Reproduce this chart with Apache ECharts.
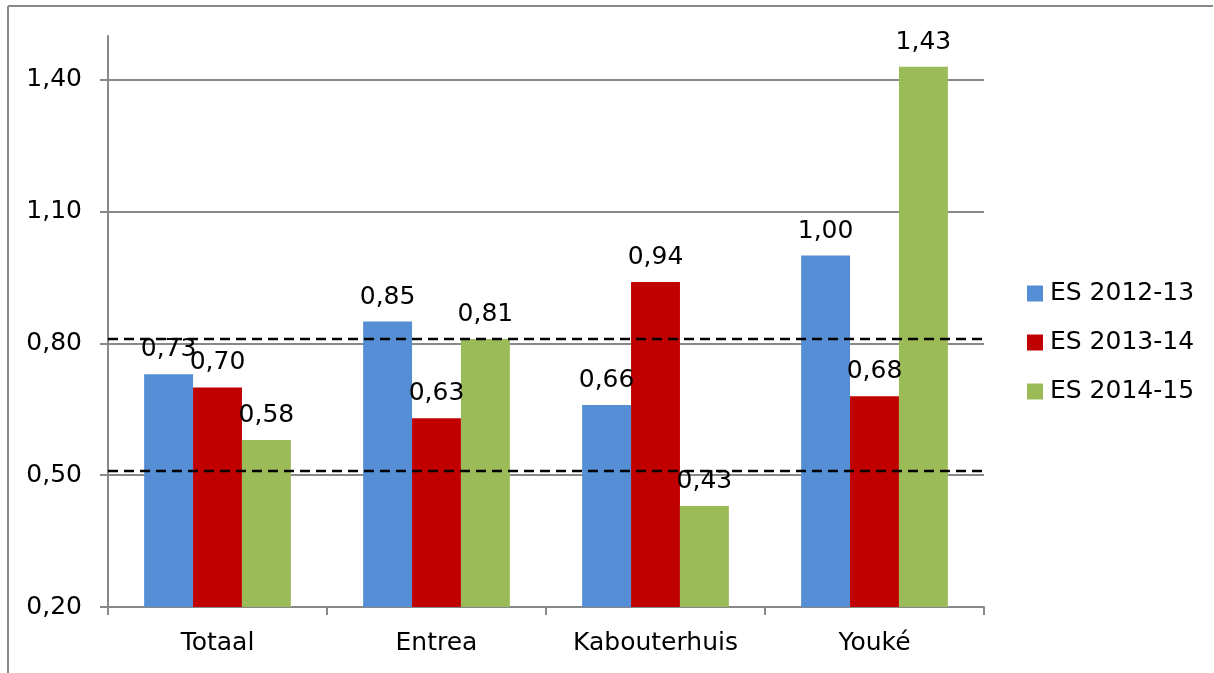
<!DOCTYPE html>
<html>
<head>
<meta charset="utf-8">
<script src="https://cdn.jsdelivr.net/npm/echarts@6/dist/echarts.min.js"></script>
<style>
  html, body { margin: 0; padding: 0; background: #fff; }
  #main { width: 1214px; height: 673px; }
</style>
</head>
<body>
<div id="main"></div>
<script>
var categories = ['Totaal', 'Entrea', 'Kabouterhuis', 'Youké']
var seriesNames = ['ES 2012-13', 'ES 2013-14', 'ES 2014-15']
var es201213 = [0.73, 0.85, 0.66, 1.00]
var es201314 = [0.70, 0.63, 0.94, 0.68]
var es201415 = [0.58, 0.81, 0.43, 1.43]
var yTicks = [0.2, 0.5, 0.8, 1.1, 1.4]
var refLines = [0.805, 0.508]
var colors = ['#558ED5', '#C00000', '#9BBB59']

var font = 'DejaVu Sans'

function fmt(v) {
  return v.toFixed(2).replace('.', ',')
}

var myChart = echarts.init(document.getElementById('main'))

function bar(name, data, color, withLines) {
  var s = {
    name: name,
    type: 'bar',
    data: data,
    itemStyle: { color: color },
    barGap: 0,
    barCategoryGap: '33%',
    label: {
      show: true,
      position: 'top',
      distance: 12,
      color: '#000',
      fontFamily: font,
      fontSize: 25,
      formatter: function (p) { return fmt(p.value) }
    }
  }
  if (withLines) {
    s.markLine = {
      silent: true,
      symbol: 'none',
      label: { show: false },
      lineStyle: { color: '#000', type: [10, 6], width: 2.4 },
      data: refLines.map(function (v) { return { yAxis: v } })
    }
  }
  return s
}

var option = {
  animation: false,
  graphic: [
    { type: 'line', shape: { x1: 8, y1: 6, x2: 1213, y2: 6 }, style: { stroke: '#888', lineWidth: 2 } },
    { type: 'line', shape: { x1: 8, y1: 6, x2: 8, y2: 673 }, style: { stroke: '#888', lineWidth: 2 } }
  ],
  grid: { left: 108, right: 230, top: 36, bottom: 66 },
  legend: {
    orient: 'vertical',
    left: 1022,
    top: 276,
    itemWidth: 16,
    itemHeight: 16,
    itemGap: 24,
    icon: 'rect',
    textStyle: { fontFamily: font, fontSize: 25, color: '#000', padding: [0, 0, 0, 2] },
    data: seriesNames
  },
  xAxis: {
    type: 'category',
    data: categories,
    axisLine: { lineStyle: { color: '#888', width: 2 } },
    axisTick: { show: true, length: 8, lineStyle: { color: '#888', width: 2 } },
    axisLabel: { color: '#000', fontFamily: font, fontSize: 25, margin: 24 }
  },
  yAxis: {
    type: 'value',
    min: 0.2,
    max: 1.5,
    interval: 0.3,
    axisLine: { show: true, lineStyle: { color: '#888', width: 2 } },
    axisTick: { show: true, length: 8, customValues: yTicks, lineStyle: { color: '#888', width: 2 } },
    splitLine: { lineStyle: { color: '#888', width: 2 } },
    axisLabel: {
      color: '#000',
      fontFamily: font,
      fontSize: 25,
      margin: 26,
      customValues: yTicks,
      formatter: function (v) { return fmt(v) }
    }
  },
  series: [
    bar(seriesNames[0], es201213, colors[0], true),
    bar(seriesNames[1], es201314, colors[1], false),
    bar(seriesNames[2], es201415, colors[2], false)
  ]
}

myChart.setOption(option)
</script>
</body>
</html>
